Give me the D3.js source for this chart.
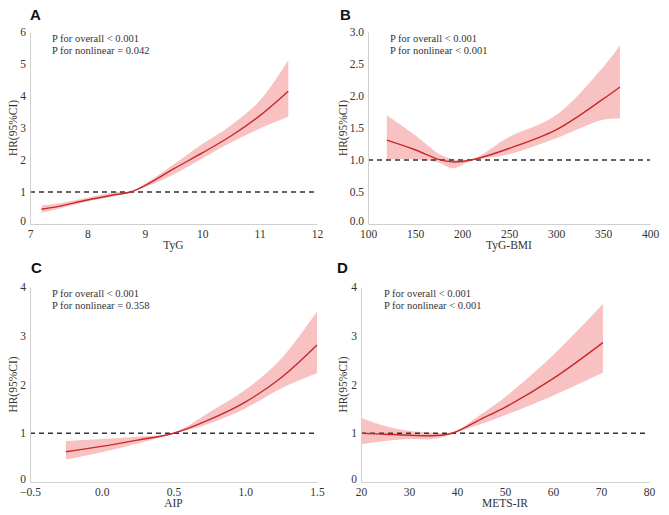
<!DOCTYPE html>
<html>
<head>
<meta charset="utf-8">
<script src="https://cdn.jsdelivr.net/npm/d3@7"></script>
<style>
  body { margin: 0; background: #fff; }
  text { font-family: "Liberation Serif", "Times New Roman", serif; fill: #333; }
  .letter { font-family: "Liberation Sans", Arial, sans-serif; font-weight: bold; fill: #111; }
</style>
</head>
<body>
<svg id="chart" width="669" height="515"></svg>
<script>
// panel A: TyG
const tygX     = [7.2, 7.5, 8.0, 8.5, 8.75, 9.0, 9.5, 10.0, 10.5, 11.0, 11.5];
const tygHR    = [0.46, 0.55, 0.75, 0.92, 1.0, 1.2, 1.72, 2.22, 2.75, 3.38, 4.15];
const tygLow   = [0.36, 0.48, 0.70, 0.88, 1.0, 1.15, 1.55, 2.05, 2.55, 2.98, 3.35];
const tygHigh  = [0.58, 0.64, 0.82, 1.0, 1.0, 1.25, 1.86, 2.50, 3.08, 3.85, 5.12];

// panel B: TyG-BMI
const bmiX     = [120, 150, 175, 190, 210, 250, 300, 350, 368];
const bmiHR    = [1.31, 1.16, 1.01, 0.97, 1.0, 1.18, 1.47, 1.95, 2.14];
const bmiLow   = [1.01, 1.01, 0.96, 0.87, 0.99, 1.09, 1.34, 1.63, 1.65];
const bmiHigh  = [1.70, 1.39, 1.10, 1.01, 1.01, 1.36, 1.70, 2.45, 2.79];

// panel C: AIP
const aipX     = [-0.25, 0.0, 0.25, 0.5, 0.75, 1.0, 1.25, 1.5];
const aipHR    = [0.62, 0.73, 0.86, 1.0, 1.28, 1.64, 2.14, 2.81];
const aipLow   = [0.46, 0.61, 0.79, 0.99, 1.20, 1.51, 1.92, 2.23];
const aipHigh  = [0.84, 0.88, 0.93, 1.01, 1.43, 1.89, 2.53, 3.50];

// panel D: METS-IR
const metsX    = [20, 25, 30, 35, 39, 45, 50, 60, 70.4];
const metsHR   = [1.0, 0.98, 0.96, 0.95, 1.0, 1.29, 1.53, 2.12, 2.86];
const metsLow  = [0.77, 0.84, 0.88, 0.88, 0.99, 1.19, 1.37, 1.77, 2.24];
const metsHigh = [1.32, 1.15, 1.05, 1.01, 1.01, 1.39, 1.74, 2.60, 3.65];

const panels = [
  { letter: "A", title: "TyG", x: tygX, hr: tygHR, lo: tygLow, hi: tygHigh,
    xDom: [7, 12], xTicks: [7, 8, 9, 10, 11, 12], xFmt: d3.format("d"),
    yDom: [0, 6], yTicks: [0, 1, 2, 3, 4, 5, 6], yFmt: d3.format("d"),
    p: ["P for overall < 0.001", "P for nonlinear = 0.042"],
    left: 30, right: 317, top: 32, bottom: 224, lx: 30, ly: 20, px: 52, ylx: 13 },
  { letter: "B", title: "TyG-BMI", x: bmiX, hr: bmiHR, lo: bmiLow, hi: bmiHigh,
    xDom: [100, 400], xTicks: [100, 150, 200, 250, 300, 350, 400], xFmt: d3.format("d"),
    yDom: [0, 3], yTicks: [0, 0.5, 1, 1.5, 2, 2.5, 3], yFmt: d3.format(".1f"),
    p: ["P for overall < 0.001", "P for nonlinear < 0.001"],
    left: 368, right: 650, top: 32, bottom: 224, lx: 340, ly: 20, px: 390, ylx: 343 },
  { letter: "C", title: "AIP", x: aipX, hr: aipHR, lo: aipLow, hi: aipHigh,
    xDom: [-0.5, 1.5], xTicks: [-0.5, 0, 0.5, 1, 1.5], xFmt: d3.format(".1f"),
    yDom: [0, 4], yTicks: [0, 1, 2, 3, 4], yFmt: d3.format("d"),
    p: ["P for overall < 0.001", "P for nonlinear = 0.358"],
    left: 30, right: 317, top: 287, bottom: 482, lx: 31, ly: 273, px: 52, ylx: 13 },
  { letter: "D", title: "METS-IR", x: metsX, hr: metsHR, lo: metsLow, hi: metsHigh,
    xDom: [20, 80], xTicks: [20, 30, 40, 50, 60, 70, 80], xFmt: d3.format("d"),
    yDom: [0, 4], yTicks: [0, 1, 2, 3, 4], yFmt: d3.format("d"),
    p: ["P for overall < 0.001", "P for nonlinear < 0.001"],
    left: 361, right: 649, top: 287, bottom: 482, lx: 337, ly: 273, px: 384, ylx: 343 }
];

const svg = d3.select("#chart");
const curve = d3.curveCatmullRom.alpha(0.5);

panels.forEach(p => {
  const x = d3.scaleLinear().domain(p.xDom).range([p.left, p.right]);
  const y = d3.scaleLinear().domain(p.yDom).range([p.bottom, p.top]);
  const g = svg.append("g");
  const rows = p.x.map((v, i) => ({ x: v, hr: p.hr[i], lo: p.lo[i], hi: p.hi[i] }));

  // confidence band
  g.append("path")
    .datum(rows)
    .attr("fill", "#f9c2c2")
    .attr("d", d3.area().curve(curve)
      .x(d => x(d.x)).y0(d => y(d.lo)).y1(d => y(d.hi)));

  // reference line at HR = 1
  g.append("line")
    .attr("x1", x(p.xDom[0])).attr("x2", x(p.xDom[1]))
    .attr("y1", y(1)).attr("y2", y(1))
    .attr("stroke", "#333").attr("stroke-width", 1.3)
    .attr("stroke-dasharray", "5,4");

  g.append("path")
    .datum(rows)
    .attr("fill", "none")
    .attr("stroke", "#c8282c")
    .attr("stroke-width", 1.4)
    .attr("d", d3.line().curve(curve).x(d => x(d.x)).y(d => y(d.hr)));

  // axes, no ticks, light grey domain
  const xAxis = g.append("g").attr("transform", `translate(0,${p.bottom})`)
    .call(d3.axisBottom(x).tickValues(p.xTicks).tickFormat(p.xFmt).tickSize(0).tickPadding(6));
  const yAxis = g.append("g").attr("transform", `translate(${p.left},0)`)
    .call(d3.axisLeft(y).tickValues(p.yTicks).tickFormat(p.yFmt).tickSize(0).tickPadding(4));
  [xAxis, yAxis].forEach(a => {
    a.select(".domain").attr("stroke", "#d0d0d0");
    a.selectAll("text").attr("font-size", 11.5).attr("fill", "#333")
      .attr("font-family", "Liberation Serif, serif");
  });
  // bottom y label sits a touch above the corner so it clears the first x label
  yAxis.selectAll(".tick").filter(d => d === p.yDom[0]).select("text").attr("dy", "0.08em");

  g.append("text").attr("x", (p.left + p.right) / 2).attr("y", p.bottom + 25)
    .attr("text-anchor", "middle").attr("font-size", 11.5).text(p.title);

  g.append("text")
    .attr("transform", `translate(${p.ylx},${(p.top + p.bottom) / 2}) rotate(-90)`)
    .attr("text-anchor", "middle").attr("dy", "0.35em").attr("font-size", 11.5)
    .text("HR(95%CI)");

  g.append("text").attr("class", "letter").attr("x", p.lx).attr("y", p.ly)
    .attr("font-size", 15).text(p.letter);

  p.p.forEach((t, i) => {
    g.append("text").attr("x", p.px).attr("y", p.top + 10 + i * 12)
      .attr("font-size", 10.5).text(t);
  });
});
</script>
</body>
</html>
